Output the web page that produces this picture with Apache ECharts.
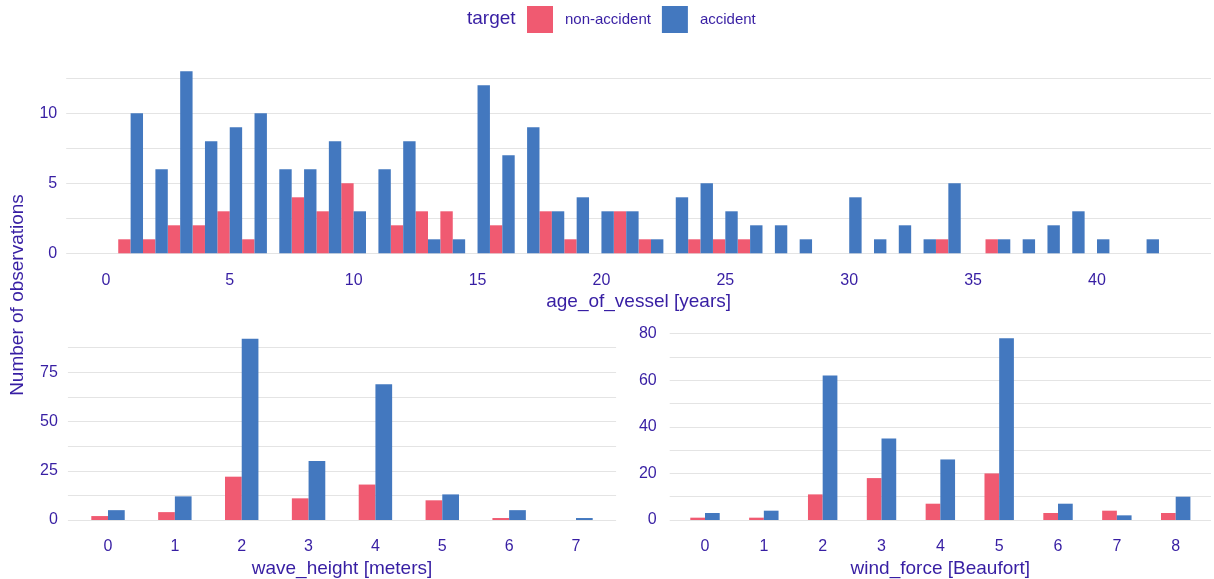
<!DOCTYPE html>
<html>
<head>
<meta charset="utf-8">
<script src="https://cdn.jsdelivr.net/npm/echarts@6/dist/echarts.min.js"></script>
<style>
  html, body { margin: 0; padding: 0; background: #ffffff; }
  #chart { width: 1214px; height: 579px; }
</style>
</head>
<body>
<div id="chart"></div>
<script>
// ---- data ----
const groups = ['non-accident', 'accident'];

const ageValues = [0,1,2,3,4,5,6,7,8,9,10,11,12,13,14,15,16,17,18,19,20,21,22,23,24,25,26,27,28,29,30,31,32,33,34,35,36,37,38,39,40,41,42];
const ageNonAccident = [0,1,1,2,2,3,1,0,4,3,5,0,2,3,3,0,2,0,3,1,0,3,1,0,1,1,1,0,0,0,0,0,0,0,1,0,1,0,0,0,0,0,0];
const ageAccident    = [0,10,6,13,8,9,10,6,6,8,3,6,8,1,1,12,7,9,3,4,3,3,1,4,5,3,2,2,1,0,4,1,2,1,5,0,1,1,2,3,1,0,1];

const waveValues = [0,1,2,3,4,5,6,7];
const waveNonAccident = [2,4,22,11,18,10,1,0];
const waveAccident    = [5,12,92,30,69,13,5,1];

const windValues = [0,1,2,3,4,5,6,7,8];
const windNonAccident = [1,1,11,18,7,20,3,4,3];
const windAccident    = [3,4,62,35,26,78,7,2,10];

const ageTicks = [0,5,10,15,20,25,30,35,40];
const ageYTicks = [0,5,10];
const waveYTicks = [0,25,50,75];
const windYTicks = [0,20,40,60,80];

// ---- styling ----
const TEXT = '#371ea3';
const PINK = '#f05a71';
const BLUE = '#4378bf';
const GRID = '#e4e4e4';
const FONT = '"Liberation Sans", Arial, sans-serif';

function near(v, list) {
  for (const t of list) if (Math.abs(v - t) < 1e-6) return t;
  return null;
}
function xAxisDef(idx, min, max, ticks, name) {
  return {
    type: 'value', gridIndex: idx, min: min, max: max, interval: 0.2,
    axisLine: { show: false }, axisTick: { show: false }, splitLine: { show: false },
    axisLabel: {
      color: TEXT, fontSize: 16, fontFamily: FONT, margin: 19,
      formatter: v => { const t = near(v, ticks); return t === null ? '' : String(t); }
    },
    name: name, nameLocation: 'middle', nameGap: 39,
    nameTextStyle: { color: TEXT, fontSize: 19, fontFamily: FONT }
  };
}
function yAxisDef(idx, max, interval, ticks, margin) {
  return {
    type: 'value', gridIndex: idx, min: 0, max: max, interval: interval,
    axisLine: { show: false }, axisTick: { show: false },
    splitLine: { show: true, lineStyle: { color: GRID, width: 1.2 } },
    axisLabel: {
      color: TEXT, fontSize: 16, fontFamily: FONT, margin: margin,
      formatter: v => { const t = near(v, ticks); return t === null ? '' : String(t); }
    }
  };
}
function barSeries(name, color, idx, xs, ys, catGap) {
  return {
    type: 'bar', name: name, xAxisIndex: idx, yAxisIndex: idx,
    data: xs.map((x, i) => [x, ys[i]]),
    itemStyle: { color: color },
    barGap: '0%', barCategoryGap: catGap,
    clip: false,
    emphasis: { disabled: true }
  };
}

const chart = echarts.init(document.getElementById('chart'), null, { renderer: 'canvas' });
chart.setOption({
  animation: false,
  backgroundColor: '#ffffff',
  legend: {
    data: groups,
    left: 527, top: 6, padding: 0,
    itemWidth: 26, itemHeight: 27, itemGap: 11,
    icon: 'rect',
    textStyle: { color: TEXT, fontSize: 15, fontFamily: FONT, padding: [0, 0, 0, 7] }
  },
  graphic: [
    { type: 'text', left: 467, top: 9,
      style: { text: 'target', fill: TEXT, fontSize: 19, fontFamily: FONT } },
    { type: 'text', x: 18, y: 295, rotation: Math.PI / 2,
      style: { text: 'Number of observations', fill: TEXT, fontSize: 19, fontFamily: FONT,
               align: 'center', verticalAlign: 'middle' } }
  ],
  grid: [
    { left: 66.2, top: 78.3, width: 1150.3, height: 175 },
    { left: 67.9, top: 347.7, width: 548.2, height: 173.3 },
    { left: 669.7, top: 333.7, width: 541.8, height: 187.3 }
  ],
  xAxis: [
    xAxisDef(0, -1.6, 44.6, ageTicks, 'age_of_vessel [years]'),
    xAxisDef(1, -0.6, 7.6, waveValues, 'wave_height [meters]'),
    xAxisDef(2, -0.6, 8.6, windValues, 'wind_force [Beaufort]')
  ],
  yAxis: [
    yAxisDef(0, 12.5, 2.5, ageYTicks, 9),
    yAxisDef(1, 87.5, 12.5, waveYTicks, 10),
    yAxisDef(2, 80, 10, windYTicks, 13)
  ],
  series: [
    barSeries(groups[0], PINK, 0, ageValues, ageNonAccident, '0%'),
    barSeries(groups[1], BLUE, 0, ageValues, ageAccident, '0%'),
    barSeries(groups[0], PINK, 1, waveValues, waveNonAccident, '50%'),
    barSeries(groups[1], BLUE, 1, waveValues, waveAccident, '50%'),
    barSeries(groups[0], PINK, 2, windValues, windNonAccident, '50%'),
    barSeries(groups[1], BLUE, 2, windValues, windAccident, '50%')
  ]
});
</script>
</body>
</html>
